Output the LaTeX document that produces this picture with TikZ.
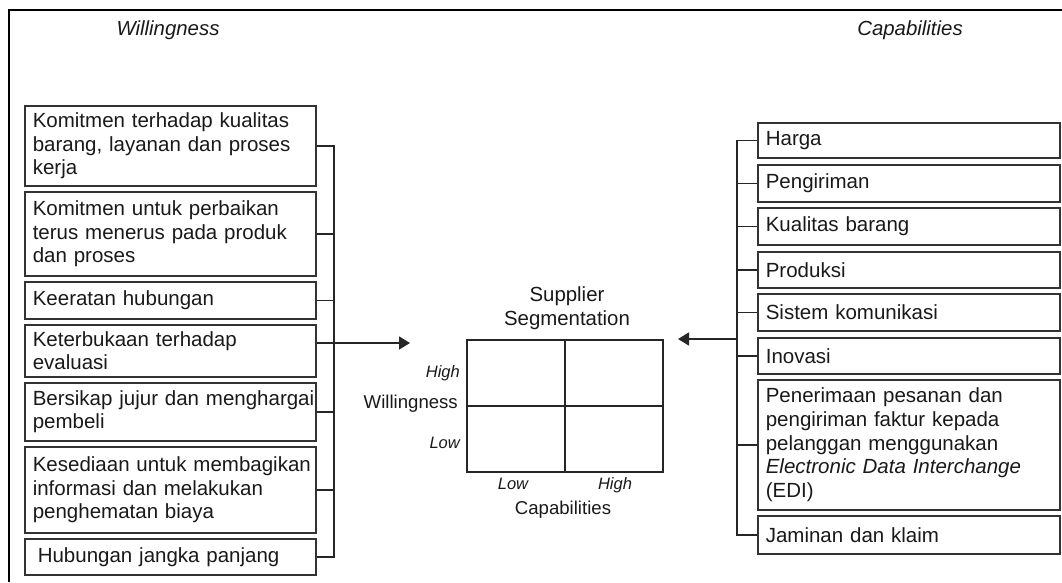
\documentclass[tikz,border=0pt]{standalone}
\usepackage{fontspec}
\setmainfont{Liberation Sans}
\usetikzlibrary{arrows.meta}

\begin{document}
\begin{tikzpicture}[x=1pt, y=-1pt,
    every node/.style={text=black!90},
    kotak/.style={draw=black!80, line width=1.6pt, anchor=north west, inner xsep=2pt, inner ysep=0pt,
        align=left, font=\fontsize{20.5}{23.6}\selectfont,
        execute at begin node={\leftskip=6pt\rightskip=-12pt plus 1fil\hyphenpenalty=10000}},
    garis/.style={draw=black!85, line width=1.5pt},
    panah/.style={draw=black!85, line width=1.5pt, -{Triangle[length=11pt,width=13pt]}},
    judul/.style={font=\fontsize{20.4}{24}\selectfont},
    sumbu/.style={font=\fontsize{18.6}{22}\selectfont},
    tingkat/.style={font=\fontsize{16.5}{20}\selectfont\itshape}]
    \useasboundingbox (0,0) rectangle (1062,582);

    % Рамка (только верх и левая сторона)
    \draw[line width=2.2pt] (9,582) -- (9,10) -- (1062,10);

    % Заголовки
    \node[judul, font=\fontsize{20.4}{24}\selectfont\itshape, anchor=base] (hw) at (168,35) {Willingness};
    \node[judul, font=\fontsize{20.4}{24}\selectfont\itshape, anchor=base] (hc) at (910,35) {Capabilities};

    % Левые блоки (willingness)
    \node[kotak, text width=287pt, minimum height=80pt] (l1) at (24,105) {Komitmen terhadap kualitas\\barang, layanan dan proses\\kerja};
    \node[kotak, text width=287pt, minimum height=84pt] (l2) at (24,191) {Komitmen untuk perbaikan\\terus menerus pada produk\\dan proses};
    \node[kotak, text width=287pt, minimum height=37pt] (l3) at (24,281) {Keeratan hubungan};
    \node[kotak, text width=287pt, minimum height=52pt] (l4) at (24,324) {Keterbukaan terhadap\\evaluasi};
    \node[kotak, text width=287pt, minimum height=58pt] (l5) at (24,382) {Bersikap jujur dan menghargai\\pembeli};
    \node[kotak, text width=287pt, minimum height=86pt] (l6) at (24,446) {Kesediaan untuk membagikan\\informasi dan melakukan\\penghematan biaya};
    \node[kotak, text width=287pt, minimum height=36pt] (l7) at (24,538) {\hspace{5pt}Hubungan jangka panjang};

    % Правые блоки (capabilities)
    \node[kotak, text width=298pt, minimum height=35pt] (r1) at (757,122) {Harga};
    \node[kotak, text width=298pt, minimum height=37pt] (r2) at (757,164) {Pengiriman};
    \node[kotak, text width=298pt, minimum height=37pt] (r3) at (757,207) {Kualitas barang};
    \node[kotak, text width=298pt, minimum height=36pt] (r4) at (757,251) {Produksi};
    \node[kotak, text width=298pt, minimum height=37pt] (r5) at (757,293) {Sistem komunikasi};
    \node[kotak, text width=298pt, minimum height=36pt] (r6) at (757,337) {Inovasi};
    \node[kotak, text width=298pt, minimum height=130pt] (r7) at (757,379) {Penerimaan pesanan dan\\pengiriman faktur kepada\\pelanggan menggunakan\\\textit{Electronic Data Interchange}\\(EDI)};
    \node[kotak, text width=298pt, minimum height=38pt] (r8) at (757,515) {Jaminan dan klaim};

    % Матрица сегментации
    \node[draw=black!85, line width=1.5pt, minimum width=196pt, minimum height=132pt, inner sep=0pt] (seg) at (565,406) {};
    \draw[garis] (seg.north) -- (seg.south);
    \draw[garis] (seg.west) -- (seg.east);
    \node[judul, align=center, anchor=south, inner sep=0pt] (jd) at (567,330) {Supplier\\Segmentation};
    \node[tingkat, anchor=base east, inner sep=0pt] (yh) at (460,377) {High};
    \node[sumbu, anchor=base east, inner sep=0pt] (yw) at (458,408) {Willingness};
    \node[tingkat, anchor=base east, inner sep=0pt] (yl) at (460,448) {Low};
    \node[tingkat, anchor=base, inner sep=0pt] (xl) at (513,489) {Low};
    \node[tingkat, anchor=base, inner sep=0pt] (xh) at (615,489) {High};
    \node[sumbu, anchor=base, inner sep=0pt] (xc) at (563,514) {Capabilities};

    % Соединения слева
    \coordinate (lbus) at (334,0);
    \coordinate (lin) at (410,343);
    \draw[garis] (l1.east) -| (lbus |- l7.east) -- (l7.east);
    \foreach \i in {2,3,5,6}
        \draw[garis] (l\i.east) -- (lbus |- l\i.east);
    \draw[garis] (l4.east |- lin) -- (lbus |- lin);
    \draw[panah] (lbus |- lin) -- (lin);

    % Соединения справа
    \coordinate (rbus) at (737,0);
    \coordinate (rin) at (678,339);
    \draw[garis] (r1.west) -| (rbus |- r8.west) -- (r8.west);
    \foreach \i in {2,...,7}
        \draw[garis] (r\i.west) -- (rbus |- r\i.west);
    \draw[panah] (rbus |- rin) -- (rin);
\end{tikzpicture}
\end{document}
